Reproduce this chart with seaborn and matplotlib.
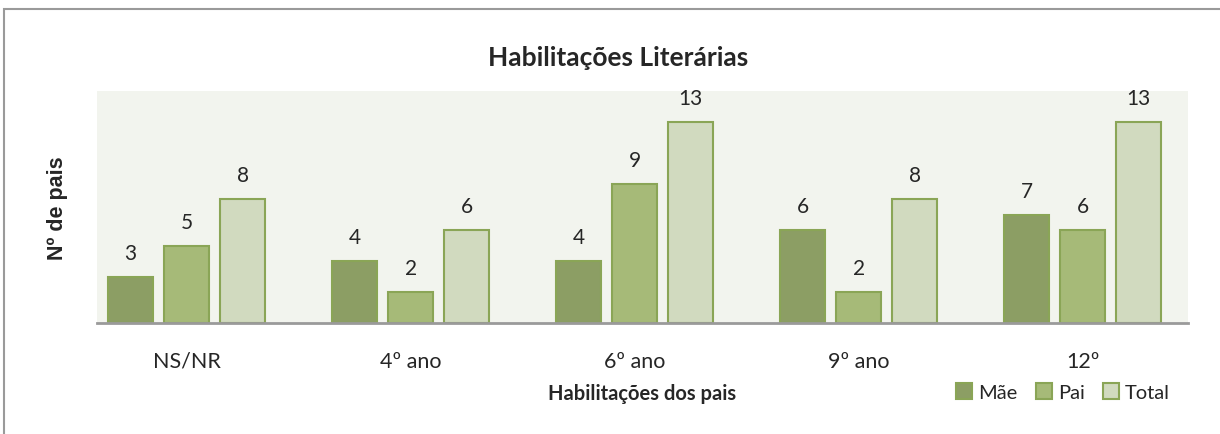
import matplotlib
matplotlib.use("Agg")
import matplotlib.pyplot as plt
import seaborn as sns
import pandas as pd
from matplotlib.patches import Rectangle

categories = ["NS/NR", "4º ano", "6º ano", "9º ano", "12º"]
mae = [3, 4, 4, 6, 7]
pai = [5, 2, 9, 2, 6]
total = [8, 6, 13, 8, 13]
series = ["Mãe", "Pai", "Total"]
colors = ["#8fa85a", "#abc56d", "#d2dfba"]

df = pd.DataFrame({
    "cat": categories * 3,
    "serie": [s for s in series for _ in categories],
    "val": mae + pai + total,
})

sns.set_theme(style="white")
plt.rcParams["font.family"] = ["Lato", "DejaVu Sans"]

fig = plt.figure(figsize=(12.2, 4.35), dpi=100)
ax = fig.add_axes([97 / 1220, 1 - 324 / 435, (1188 - 97) / 1220, (324 - 92) / 435])

sns.barplot(data=df, x="cat", y="val", hue="serie", order=categories,
            hue_order=series, palette=colors, width=0.75, gap=0.2,
            edgecolor="#8aa556", linewidth=1.5, ax=ax, legend=True)

ax.set_facecolor("#f2f4ee")
ax.set_ylim(0, 15)
ax.set_xlim(-0.4, 4.47)
ax.set_yticks([])
for s in ["top", "right", "left"]:
    ax.spines[s].set_visible(False)
ax.spines["bottom"].set_color("#9a9a9a")
ax.spines["bottom"].set_linewidth(2)
ax.tick_params(axis="x", length=0, pad=20, labelsize=15.5)
for c in ax.containers:
    ax.bar_label(c, padding=10, fontsize=15)

ax.set_xlabel("Habilitações dos pais", fontsize=14.5, fontweight="bold", labelpad=9)
ax.set_ylabel("")
fig.text(58 / 1220, 1 - 208 / 435, "Nº de pais", rotation=90, ha="center", va="center",
         fontsize=15.5, fontweight="bold", family=["Liberation Sans", "DejaVu Sans"])
fig.text(618 / 1220, 1 - 58 / 435, "Habilitações Literárias", ha="center", va="center",
         fontsize=19, fontweight="bold")

leg = ax.legend(loc="center", bbox_to_anchor=(1063 / 1220, 1 - 393 / 435),
                bbox_transform=fig.transFigure, ncol=3, frameon=False,
                fontsize=14.5, handlelength=0.8, handleheight=0.8,
                handletextpad=0.3, columnspacing=0.9)

fig.patches.append(Rectangle((4 / 1220, -0.1), 1.2, 1.1 - 10 / 435, transform=fig.transFigure,
                             fill=False, edgecolor="#9a9a9a", linewidth=1.5))

fig.savefig("out.png", dpi=100, facecolor="white")
